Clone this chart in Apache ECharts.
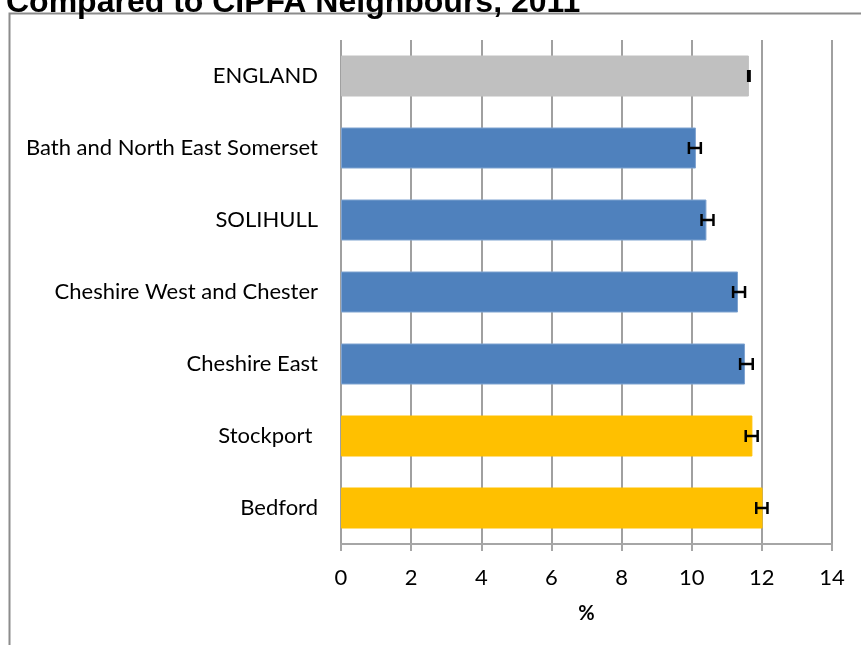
<!DOCTYPE html>
<html>
<head>
<meta charset="utf-8">
<script src="https://cdn.jsdelivr.net/npm/echarts@6/dist/echarts.min.js"></script>
<style>
html,body{margin:0;padding:0;background:#fff;}
#chart{width:861px;height:645px;}
</style>
</head>
<body>
<div id="chart"></div>
<script>
var titleText = 'Compared to CIPFA Neighbours, 2011';
var categories = ['ENGLAND', 'Bath and North East Somerset', 'SOLIHULL', 'Cheshire West and Chester', 'Cheshire East', 'Stockport ', 'Bedford'];
var values = [11.63, 10.12, 10.42, 11.32, 11.52, 11.73, 12.02];
var ciLow = [11.61, 9.92, 10.28, 11.18, 11.38, 11.54, 11.84];
var ciHigh = [11.65, 10.26, 10.62, 11.52, 11.74, 11.88, 12.16];
var barColors = ['#C0C0C0', '#4F81BD', '#4F81BD', '#4F81BD', '#4F81BD', '#FFC000', '#FFC000'];
var xTicks = [0, 2, 4, 6, 8, 10, 12, 14];
var xAxisName = '%';

var chart = echarts.init(document.getElementById('chart'), null, {renderer: 'canvas'});

var barData = values.map(function (v, i) {
  return {
    value: v,
    itemStyle: {
      color: barColors[i],
      borderColor: barColors[i] === '#4F81BD' ? '#7FA3D0' : barColors[i],
      borderWidth: 1
    }
  };
});
var errData = values.map(function (v, i) { return [i, ciLow[i], ciHigh[i]]; });

var option = {
  animation: false,
  backgroundColor: '#fff',
  textStyle: {fontFamily: 'Lato'},
  graphic: [
    {
      type: 'rect', silent: true, z: 0,
      shape: {x: 9.5, y: 13.5, width: 1000, height: 1000},
      style: {fill: 'none', stroke: '#8C8C8C', lineWidth: 2}
    },
    {
      type: 'text', silent: true,
      x: 6, y: 19,
      style: {text: titleText, font: 'bold 32px "Liberation Sans", Arial', fill: '#000', verticalAlign: 'bottom'}
    }
  ],
  grid: {left: 341, right: 29, top: 40, bottom: 101, containLabel: false},
  xAxis: {
    type: 'value', min: 0, max: 14, interval: 2,
    axisLine: {show: true, lineStyle: {color: '#A6A6A6', width: 2}},
    axisTick: {show: true, length: 7, lineStyle: {color: '#A6A6A6', width: 2}},
    axisLabel: {color: '#000', fontSize: 22, fontFamily: 'Lato', margin: 23,
      formatter: function (v) { return xTicks.indexOf(v) >= 0 ? String(v) : ''; }},
    splitLine: {show: true, lineStyle: {color: '#A0A0A0', width: 2}},
    name: xAxisName, nameLocation: 'middle', nameGap: 60,
    nameTextStyle: {color: '#000', fontSize: 20, fontWeight: 'bold', fontFamily: 'Lato'}
  },
  yAxis: {
    type: 'category', data: categories, inverse: true,
    axisLine: {show: false}, axisTick: {show: false},
    axisLabel: {color: '#000', fontSize: 22, fontFamily: 'Lato', margin: 23}
  },
  series: [
    {
      type: 'bar', data: barData, barWidth: 41, z: 2
    },
    {
      type: 'custom', z: 3,
      data: errData,
      renderItem: function (params, api) {
        var cat = api.value(0);
        var lo = api.coord([api.value(1), cat]);
        var hi = api.coord([api.value(2), cat]);
        var h = 6;
        var st = {stroke: '#000', lineWidth: 2.5};
        return {
          type: 'group',
          children: [
            {type: 'line', shape: {x1: lo[0], y1: lo[1], x2: hi[0], y2: hi[1]}, style: st},
            {type: 'line', shape: {x1: lo[0], y1: lo[1] - h, x2: lo[0], y2: lo[1] + h}, style: st},
            {type: 'line', shape: {x1: hi[0], y1: hi[1] - h, x2: hi[0], y2: hi[1] + h}, style: st}
          ]
        };
      }
    }
  ]
};
chart.setOption(option);
</script>
</body>
</html>
